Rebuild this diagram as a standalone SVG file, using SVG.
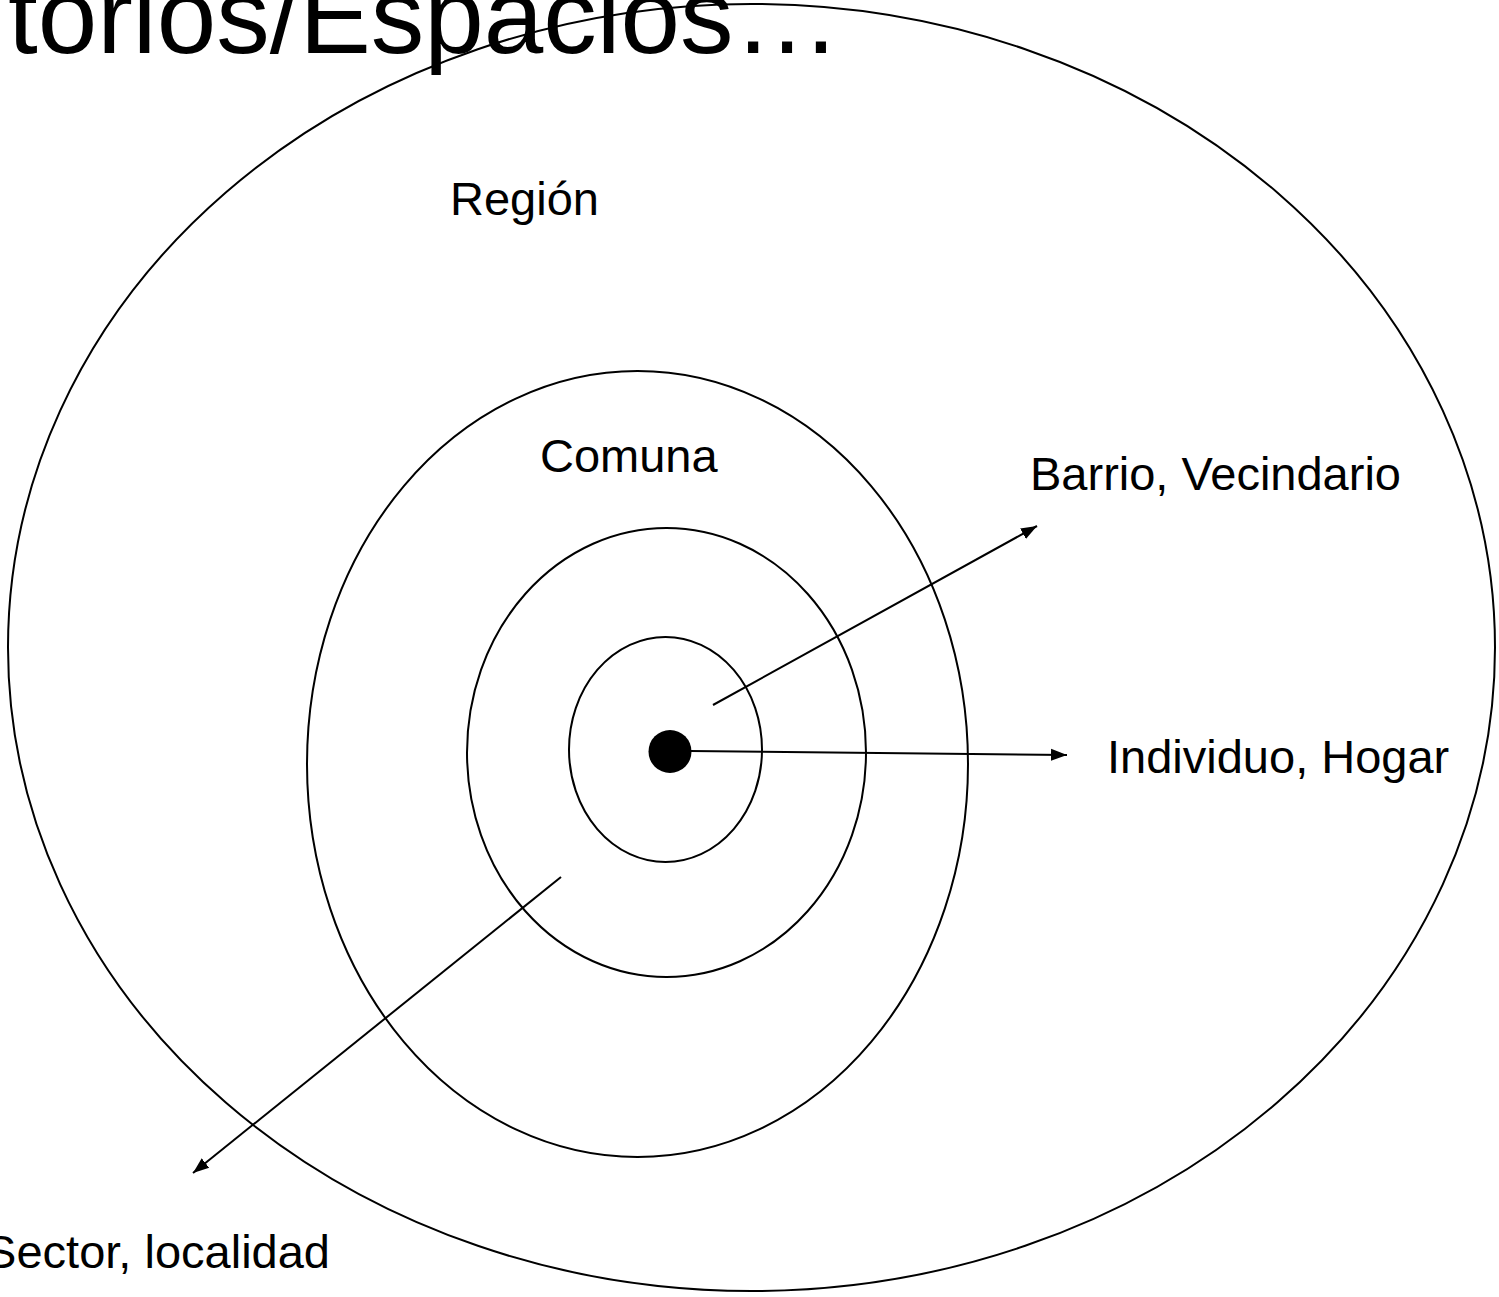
<svg xmlns="http://www.w3.org/2000/svg" width="1499" height="1297" viewBox="0 0 1499 1297">
<style>
.ring{fill:none;stroke:#000;stroke-width:2}
.lbl{font-family:"Liberation Sans",Arial,sans-serif;font-size:47px;fill:#000}
.title{font-family:"Liberation Sans",Arial,sans-serif;font-size:107px;fill:#000}
.conn{stroke:#000;stroke-width:2;fill:none;marker-end:url(#arr)}
</style>
<defs>
<marker id="arr" markerUnits="userSpaceOnUse" markerWidth="18" markerHeight="14" refX="16" refY="7" orient="auto">
<path d="M0,1 L16,7 L0,13 Z" fill="#000"/>
</marker>
</defs>
<rect width="1499" height="1297" fill="#fff"/>
<text class="title" x="8" y="53">torios/Espacios…</text>
<g id="region"><ellipse class="ring" cx="751.5" cy="647.5" rx="743.5" ry="643.5"/><text class="lbl" x="450" y="215">Región</text></g>
<g id="comuna"><ellipse class="ring" cx="637.5" cy="764" rx="330.5" ry="393"/><text class="lbl" x="540" y="472">Comuna</text></g>
<g id="barrio"><ellipse class="ring" cx="666.5" cy="752.5" rx="199.5" ry="224.5"/><text class="lbl" x="1030" y="490">Barrio, Vecindario</text></g>
<g id="sector"><ellipse class="ring" cx="665.5" cy="749.5" rx="96.5" ry="112.5"/><text class="lbl" x="330" y="1268" text-anchor="end">Sector, localidad</text></g>
<g id="individuo"><circle cx="670" cy="751.5" r="21.5" fill="#000"/><text class="lbl" x="1107" y="773">Individuo, Hogar</text></g>
<g id="connectors">
<line class="conn" x1="713" y1="705" x2="1037" y2="526"/>
<line class="conn" x1="690" y1="751" x2="1067" y2="755"/>
<line class="conn" x1="561" y1="877" x2="193" y2="1173"/>
</g>
</svg>
